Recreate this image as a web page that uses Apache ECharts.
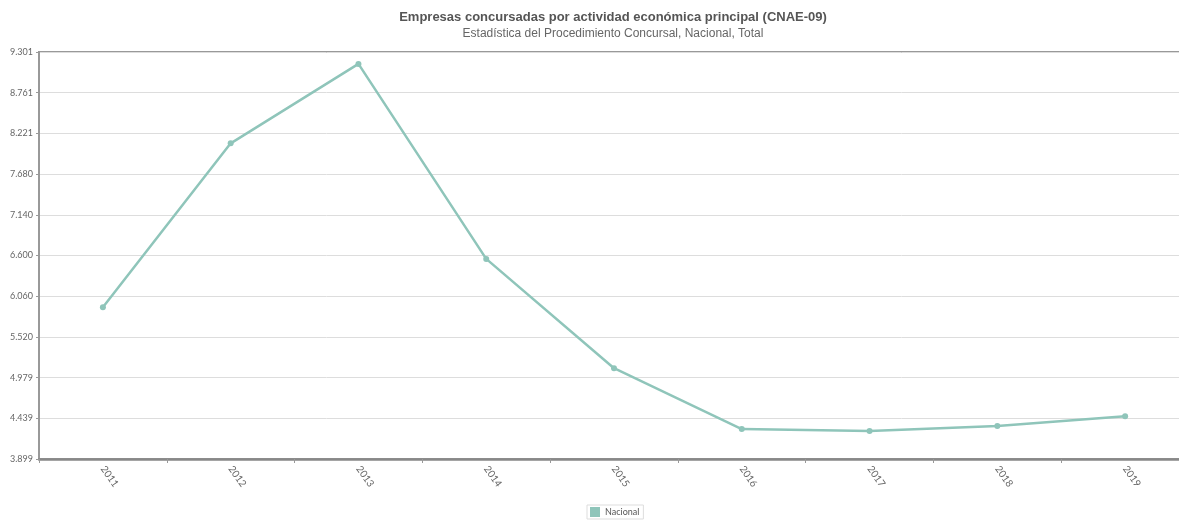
<!DOCTYPE html>
<html>
<head>
<meta charset="utf-8">
<script src="https://cdn.jsdelivr.net/npm/echarts@6/dist/echarts.min.js"></script>
<style>html,body{margin:0;padding:0;background:#fff;overflow:hidden;}#c{width:1190px;height:522px;}</style>
</head>
<body>
<div id="c"></div>
<script>
var categories = ['2011','2012','2013','2014','2015','2016','2017','2018','2019'];
var nacional = [5912, 8089, 9143, 6555, 5104, 4297, 4271, 4337, 4465];
var yTicks = ['3.899','4.439','4.979','5.520','6.060','6.600','7.140','7.680','8.221','8.761','9.301'];
var titleText = 'Empresas concursadas por actividad económica principal (CNAE-09)';
var subText = 'Estadística del Procedimiento Concursal, Nacional, Total';

var yMin = 3899, yMax = 9301;
var chart = echarts.init(document.getElementById('c'));
chart.setOption({
  animation: false,
  title: {
    text: titleText, subtext: subText,
    left: 608, top: 6, textAlign: 'center', itemGap: 4,
    textStyle: {fontFamily: 'Liberation Sans, Arial', fontSize: 13, fontWeight: 'bold', color: '#555'},
    subtextStyle: {fontFamily: 'Liberation Sans, Arial', fontSize: 12, color: '#666'}
  },
  legend: {
    bottom: 3, left: 587,
    itemWidth: 10, itemHeight: 10, icon: 'rect',
    borderColor: '#ddd', borderWidth: 1, padding: [2, 4, 2, 3], itemGap: 4,
    textStyle: {fontSize: 9, color: '#555', fontFamily: 'Lato, sans-serif'},
    data: ['Nacional']
  },
  grid: {left: 39, right: 1, top: 52, bottom: 63, show: true, borderColor: '#999', borderWidth: 2, backgroundColor: 'transparent'},
  xAxis: {
    type: 'category', data: categories, boundaryGap: true,
    axisLine: {lineStyle: {color: '#888', width: 2.5}},
    axisTick: {show: true, length: 4, lineStyle: {color: '#999'}},
    axisLabel: {rotate: -55, fontSize: 10, color: '#666', margin: 8, fontFamily: 'Lato, sans-serif'}
  },
  yAxis: {
    type: 'value', min: yMin, max: yMax, interval: (yMax - yMin) / 10,
    axisLine: {show: true, lineStyle: {color: '#999', width: 2}},
    axisTick: {show: true, length: 3, lineStyle: {color: '#999'}},
    splitLine: {lineStyle: {color: '#ddd', width: 1}},
    axisLabel: {
      fontSize: 9, color: '#666', margin: 6, fontFamily: 'Lato, sans-serif',
      formatter: function (v) {
        var i = Math.round((v - yMin) / ((yMax - yMin) / 10));
        return yTicks[i] || '';
      }
    }
  },
  series: [{
    name: 'Nacional', type: 'line', data: nacional,
    symbol: 'circle', symbolSize: 6, showSymbol: true,
    lineStyle: {color: '#8fc5ba', width: 2.5},
    itemStyle: {color: '#8fc5ba'}
  }]
});
</script>
</body>
</html>
